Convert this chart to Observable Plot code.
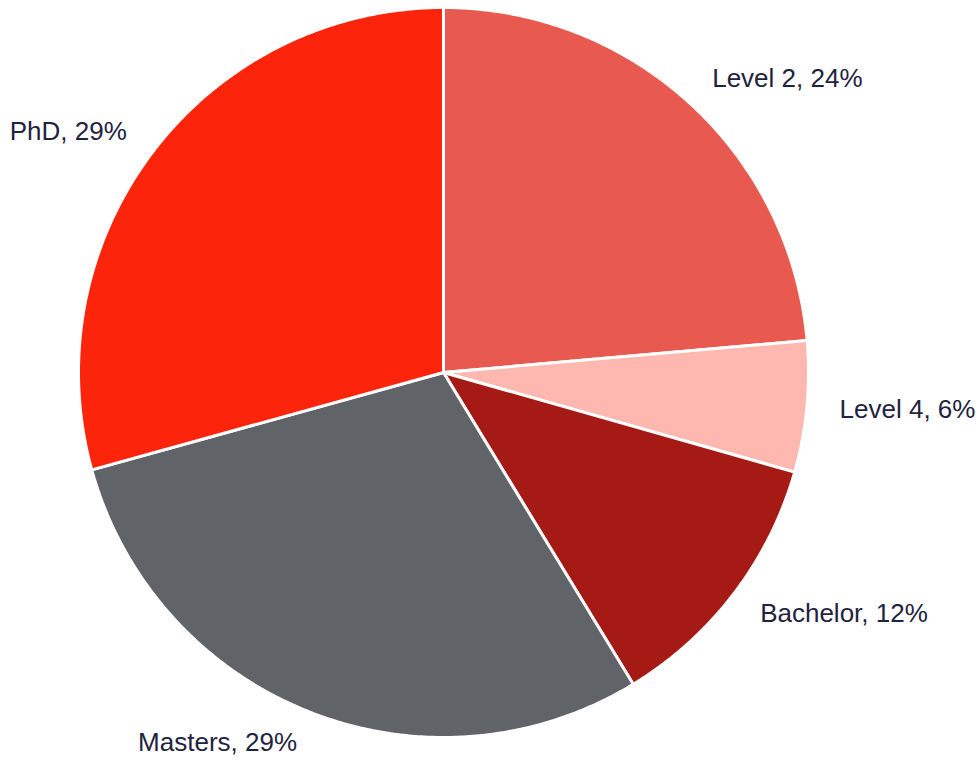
<!DOCTYPE html>
<html>
<head>
<meta charset="utf-8">
<script src="https://cdn.jsdelivr.net/npm/d3@7"></script>
<script src="https://cdn.jsdelivr.net/npm/@observablehq/plot@0.6"></script>
<style>
  html, body { margin: 0; padding: 0; background: #fff; }
  #chart svg { display: block; }
</style>
</head>
<body>
<div id="chart"></div>
<script>
const categories = ["Level 2", "Level 4", "Bachelor", "Masters", "PhD"];
const shares = [23.6, 5.8, 11.9, 29.4, 29.3];
const colors = ["#E85A50", "#FFB8B0", "#A51A15", "#606368", "#FC250C"];

const W = 976, H = 763;
const cx = 443, cy = 372, R = 365;

const pie = d3.pie().sort(null).value(d => d.value)(
  categories.map((c, i) => ({ name: c, value: shares[i], color: colors[i] }))
);

// polygon points for each slice (unit radius, angle clockwise from top)
const pts = [];
pie.forEach(p => {
  const n = Math.max(8, Math.ceil((p.endAngle - p.startAngle) * 120));
  pts.push({ name: p.data.name, x: 0, y: 0 });
  for (let k = 0; k <= n; k++) {
    const a = p.startAngle + (p.endAngle - p.startAngle) * k / n;
    pts.push({ name: p.data.name, x: Math.sin(a), y: Math.cos(a) });
  }
  pts.push({ name: p.data.name, x: 0, y: 0 });
});

const labels = pie.map(p => {
  const a = (p.startAngle + p.endAngle) / 2;
  const r = 1.09;
  return {
    name: p.data.name,
    text: `${p.data.name}, ${Math.round(p.data.value)}%`,
    x: r * Math.sin(a),
    y: r * Math.cos(a),
    anchor: Math.sin(a) >= 0 ? "start" : "end"
  };
});

const font = "Liberation Sans, Arial, sans-serif";

const chart = Plot.plot({
  width: W,
  height: H,
  margin: 0,
  x: { domain: [-cx / R, (W - cx) / R], axis: null },
  y: { domain: [-(H - cy) / R, cy / R], axis: null },
  color: { domain: categories, range: colors },
  marks: [
    Plot.line(pts, {
      x: "x", y: "y", z: "name",
      fill: "name", stroke: "white", strokeWidth: 3,
      strokeLinejoin: "round", curve: "linear"
    }),
    Plot.text(labels.filter(d => d.anchor === "start"), {
      x: "x", y: "y", text: "text", textAnchor: "start",
      fontSize: 26, fill: "#1f2340", fontFamily: font
    }),
    Plot.text(labels.filter(d => d.anchor === "end"), {
      x: "x", y: "y", text: "text", textAnchor: "end",
      fontSize: 26, fill: "#1f2340", fontFamily: font
    })
  ]
});

document.getElementById("chart").appendChild(chart);
</script>
</body>
</html>
